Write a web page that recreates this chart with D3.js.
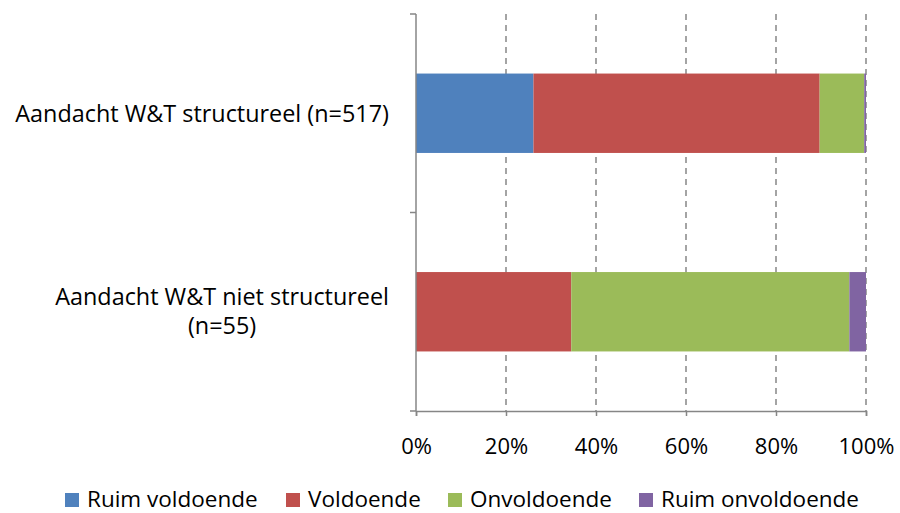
<!DOCTYPE html>
<html>
<head>
<meta charset="utf-8">
<script src="https://cdn.jsdelivr.net/npm/d3@7"></script>
<style>
  body { margin: 0; background: #fff; }
  svg text { font-family: "Open Sans", "Noto Sans", sans-serif; fill: #000; }
</style>
</head>
<body>
<div id="chart"></div>
<script>
(function(d3) {

  'use strict';

  // categories (top to bottom) and their label lines
  var categories = ['structureel', 'niet structureel'];
  var categoryLabels = [
    ['Aandacht W&T structureel (n=517)'],
    ['Aandacht W&T niet structureel', '(n=55)']
  ];

  var seriesNames = ['Ruim voldoende', 'Voldoende', 'Onvoldoende', 'Ruim onvoldoende'];
  var seriesColors = ['#4F81BD', '#C0504D', '#9BBB59', '#8064A2'];

  // shares per series, one value per category
  var ruimVoldoende = [26.1, 0];
  var voldoende = [63.6, 34.5];
  var onvoldoende = [9.9, 61.8];
  var ruimOnvoldoende = [0.4, 3.7];

  var xTicks = [0, 20, 40, 60, 80, 100];

  var width = 900, height = 513;
  var margin = { top: 14, right: 34, bottom: 102, left: 416 };
  var fontSize = '23.4px';

  var svg = d3.select('#chart')
    .append('svg')
    .attr('width', width)
    .attr('height', height);

  var x = d3.scaleLinear()
    .domain([0, 100])
    .range([margin.left, width - margin.right]);

  var y = d3.scaleBand()
    .domain(categories)
    .range([margin.top, height - margin.bottom])
    .paddingInner(0.6)
    .paddingOuter(0.3);

  var rows = categories.map(function(c, i) {
    return {
      category: c,
      'Ruim voldoende': ruimVoldoende[i],
      'Voldoende': voldoende[i],
      'Onvoldoende': onvoldoende[i],
      'Ruim onvoldoende': ruimOnvoldoende[i]
    };
  });

  var stacked = d3.stack().keys(seriesNames)(rows);

  // dashed vertical gridlines
  svg.append('g')
    .selectAll('line')
    .data(xTicks.slice(1))
    .enter()
    .append('line')
    .attr('x1', function(d) { return x(d); })
    .attr('x2', function(d) { return x(d); })
    .attr('y1', margin.top)
    .attr('y2', height - margin.bottom)
    .style('stroke', '#868686')
    .style('stroke-width', 1.5)
    .style('stroke-dasharray', '6,5');

  // bars
  svg.append('g')
    .selectAll('g')
    .data(stacked)
    .enter()
    .append('g')
    .style('fill', function(d, i) { return seriesColors[i]; })
    .selectAll('rect')
    .data(function(d) { return d; })
    .enter()
    .append('rect')
    .attr('x', function(d) { return x(d[0]); })
    .attr('width', function(d) { return x(d[1]) - x(d[0]); })
    .attr('y', function(d) { return y(d.data.category); })
    .attr('height', y.bandwidth());

  // x axis
  var xAxis = svg.append('g')
    .attr('transform', 'translate(0,' + (height - margin.bottom) + ')')
    .call(d3.axisBottom(x).tickValues(xTicks).tickSize(5)
      .tickFormat(function(d) { return d + '%'; }));
  xAxis.select('.domain').style('stroke', '#868686').style('stroke-width', 1.5);
  xAxis.selectAll('.tick line').style('stroke', '#868686').style('stroke-width', 1.5);
  xAxis.selectAll('.tick text')
    .style('font-size', '22px')
    .style('font-family', '"Open Sans", sans-serif')
    .attr('dy', 0)
    .attr('y', 43);

  // y axis line and boundary ticks
  var yBounds = [margin.top, (margin.top + height - margin.bottom) / 2, height - margin.bottom];
  var yAxis = svg.append('g');
  yAxis.append('line')
    .attr('x1', margin.left).attr('x2', margin.left)
    .attr('y1', margin.top).attr('y2', height - margin.bottom)
    .style('stroke', '#868686').style('stroke-width', 1.5);
  yAxis.selectAll('line.tick')
    .data(yBounds)
    .enter()
    .append('line')
    .attr('class', 'tick')
    .attr('x1', margin.left - 6).attr('x2', margin.left)
    .attr('y1', function(d) { return d; }).attr('y2', function(d) { return d; })
    .style('stroke', '#868686').style('stroke-width', 1.5);

  // category labels: block right-aligned to the axis, lines centred in the block
  var labelRight = 389;
  var lineHeight = 29;
  svg.append('g')
    .selectAll('text')
    .data(categories)
    .enter()
    .append('text')
    .attr('text-anchor', 'middle')
    .style('font-size', fontSize)
    .attr('y', function(d, i) {
      var lines = categoryLabels[i].length;
      return y(d) + y.bandwidth() / 2 + 9 - (lines - 1) * 16;
    })
    .each(function(d, i) {
      var t = d3.select(this);
      categoryLabels[i].forEach(function(line, j) {
        t.append('tspan')
          .attr('dy', j === 0 ? 0 : lineHeight)
          .text(line);
      });
      var maxW = 0;
      t.selectAll('tspan').each(function() {
        maxW = Math.max(maxW, this.getComputedTextLength());
      });
      t.selectAll('tspan').attr('x', labelRight - maxW / 2);
    });

  // legend
  var legendX = [65, 286, 448, 639];
  var legend = svg.append('g')
    .selectAll('g')
    .data(seriesNames)
    .enter()
    .append('g')
    .attr('transform', function(d, i) { return 'translate(' + legendX[i] + ',493)'; });
  legend.append('rect')
    .attr('width', 14).attr('height', 14)
    .style('fill', function(d, i) { return seriesColors[i]; });
  legend.append('text')
    .attr('x', 22).attr('y', 13.5)
    .style('font-size', '22.5px')
    .text(function(d) { return d; });

})(d3);
</script>
</body>
</html>
